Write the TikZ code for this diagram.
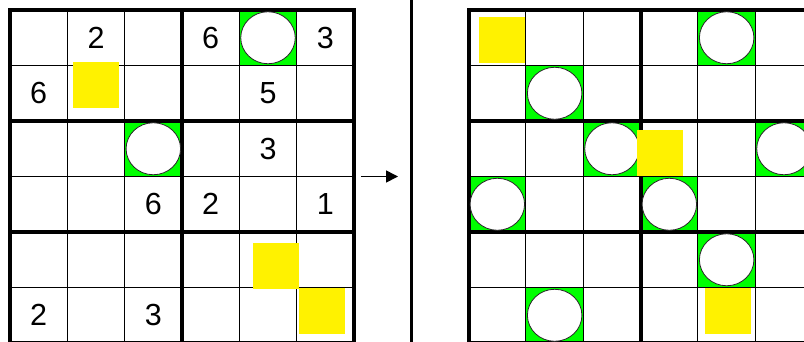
\documentclass[tikz,border=0pt]{standalone}
\usepackage{fontspec}
\setmainfont{Liberation Sans}
\usetikzlibrary{arrows.meta,shapes.geometric}

\begin{document}
\begin{tikzpicture}[
    x=57.33pt, y=-55.5pt,
    thinrule/.style={line width=1pt},
    boxrule/.style={line width=4pt, line cap=rect},
    digit/.style={font=\fontsize{30.5}{30.5}\selectfont, inner sep=0pt},
    stone/.style={ellipse, draw=black!85, line width=0.8pt, fill=white,
                  minimum width=54.5pt, minimum height=52pt, inner sep=0pt},
    lamp/.style={fill=yellow, minimum width=46pt, minimum height=46pt, inner sep=0pt},
    arrow/.style={-{Triangle[length=12pt,width=12pt]}, line width=1.5pt}
  ]
    \useasboundingbox (-0.1744,-0.1802) rectangle (13.849,5.964);

    % Green cells under the circles
    \foreach \c/\r in {4/0, 2/2, 12/0, 9/1, 10/2, 13/2, 8/3, 11/3, 12/4, 9/5}
      \fill[green] (\c,\r) rectangle ++(1,1);

    % Both grids
    \foreach \ox in {0,8} {
      \begin{scope}[shift={(\ox,0)}]
        \foreach \i in {0,...,6} {
          \draw[thinrule] (\i,0) -- (\i,6);
          \draw[thinrule] (0,\i) -- (6,\i);
        }
        \foreach \i in {0,3,6} \draw[boxrule] (\i,0) -- (\i,6);
        \foreach \i in {0,2,4,6} \draw[boxrule] (0,\i) -- (6,\i);
      \end{scope}
    }

    % Circles
    \foreach \c/\r in {4/0, 2/2, 12/0, 9/1, 10/2, 13/2, 8/3, 11/3, 12/4, 9/5}
      \node[stone] (s\c-\r) at (\c+0.5,\r+0.5) {};

    % Clues in the left grid
    \node[digit] (a10) at (1.5,0.5) {2};
    \node[digit] (a30) at (3.5,0.5) {6};
    \node[digit] (a50) at (5.5,0.5) {3};
    \node[digit] (a01) at (0.5,1.5) {6};
    \node[digit] (a41) at (4.5,1.5) {5};
    \node[digit] (a42) at (4.5,2.5) {3};
    \node[digit] (a23) at (2.5,3.5) {6};
    \node[digit] (a33) at (3.5,3.5) {2};
    \node[digit] (a53) at (5.5,3.5) {1};
    \node[digit] (a05) at (0.5,5.5) {2};
    \node[digit] (a25) at (2.5,5.5) {3};

    % Yellow squares
    \node[lamp] (y1) at (1.504,1.346) {};
    \node[lamp] (y2) at (4.636,4.609) {};
    \node[lamp] (y3) at (5.442,5.418) {};
    \node[lamp] (y4) at (8.585,0.535) {};
    \node[lamp] (y5) at (11.343,2.573) {};
    \node[lamp] (y6) at (12.524,5.418) {};

    % Divider and arrow
    \coordinate (divtop) at (7,-0.2);
    \coordinate (divbot) at (7,6);
    \draw[line width=2.5pt] (divtop) -- (divbot);
    \coordinate (from) at (6.122,3);
    \coordinate (to) at (6.768,3);
    \draw[arrow] (from) -- (to);
\end{tikzpicture}
\end{document}
